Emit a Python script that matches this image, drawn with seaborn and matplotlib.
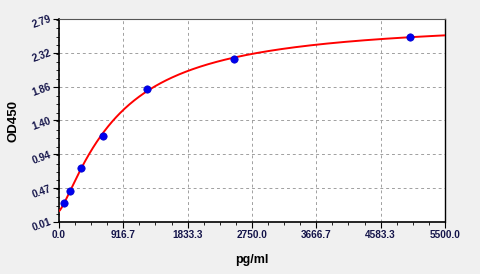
import numpy as np
import pandas as pd
import matplotlib
matplotlib.use("Agg")
import matplotlib.pyplot as plt
import seaborn as sns
from matplotlib.ticker import MultipleLocator, FixedLocator

# Data
conc = [78.125, 156.25, 312.5, 625.0, 1250.0, 2500.0, 5000.0]
od = [0.274, 0.435, 0.754, 1.19, 1.832, 2.24, 2.55]
xtick_labels = ["0.0", "916.7", "1833.3", "2750.0", "3666.7", "4583.3", "5500.0"]
ytick_labels = ["0.01", "0.47", "0.94", "1.40", "1.86", "2.32", "2.79"]
x_range = [0.0, 5500.0]
y_range = [0.01, 2.79]

# 4PL fit: y = D + (A - D) / (1 + (x/C)^B), A and D by linear least squares
x = np.array(conc)
y = np.array(od)
best = None
for B in np.linspace(0.5, 3.0, 126):
    for C in np.geomspace(100, 20000, 300):
        g = 1.0 / (1.0 + (x / C) ** B)
        M = np.column_stack([g, 1 - g])
        coef, *_ = np.linalg.lstsq(M, y, rcond=None)
        r = np.sum((M @ coef - y) ** 2)
        if best is None or r < best[0]:
            best = (r, B, C, coef[0], coef[1])
_, B, C, A, D = best
xf = np.linspace(x_range[0], x_range[1], 400)
yf = D + (A - D) / (1 + (xf / C) ** B)
fit = pd.DataFrame({"x": xf, "y": yf})
pts = pd.DataFrame({"x": conc, "y": od})

sns.set_style("white")
plt.rcParams["font.family"] = ["Liberation Sans", "DejaVu Sans"]

fig = plt.figure(figsize=(4.81, 2.74), dpi=100, facecolor="#f0f0f0")
ax = fig.add_axes([59 / 481, 1 - 222 / 274, (445 - 59) / 481, (222 - 19) / 274])
ax.set_facecolor("white")

sns.lineplot(data=fit, x="x", y="y", ax=ax, color="#ff0000", lw=1.4, zorder=3)
sns.scatterplot(data=pts, x="x", y="y", ax=ax, color="#0000ee", s=28,
                edgecolor="#0000cc", linewidth=0.5, zorder=4)

ax.set_xlim(*x_range)
ax.set_ylim(*y_range)
xt = np.linspace(x_range[0], x_range[1], len(xtick_labels))
yt = np.linspace(y_range[0], y_range[1], len(ytick_labels))
ax.set_xticks(xt)
ax.set_xticklabels(xtick_labels, fontsize=7.2, fontweight="bold", color="#14144a")
ax.set_yticks(yt)
ax.set_yticklabels(ytick_labels, fontsize=7.2, fontweight="bold", color="#14144a",
                   rotation=20, ha="right", va="center", rotation_mode="anchor")
ax.xaxis.set_minor_locator(MultipleLocator((xt[1] - xt[0]) / 4))
ax.yaxis.set_minor_locator(MultipleLocator((yt[1] - yt[0]) / 4))
ax.tick_params(axis="both", which="major", direction="out", length=4, width=0.8,
               color="black", pad=2, left=True, bottom=True)
ax.tick_params(axis="both", which="minor", direction="out", length=2, width=0.6,
               color="black", left=True, bottom=True)

ax.grid(True, which="major", color="#a0a0a0", linestyle=(0, (3, 3)), linewidth=0.7)

for s in ["left", "bottom"]:
    ax.spines[s].set_color("black")
    ax.spines[s].set_linewidth(1.2)
ax.spines["right"].set_color("black")
ax.spines["right"].set_linewidth(1.0)
ax.spines["top"].set_color("#555555")
ax.spines["top"].set_linewidth(0.8)

ax.set_xlabel("pg/ml", fontsize=9, fontweight="bold", color="black", labelpad=10)
ax.set_ylabel("OD450", fontsize=9.5, fontweight="bold", color="black", labelpad=8)

fig.savefig("out.png", dpi=100, facecolor=fig.get_facecolor())
